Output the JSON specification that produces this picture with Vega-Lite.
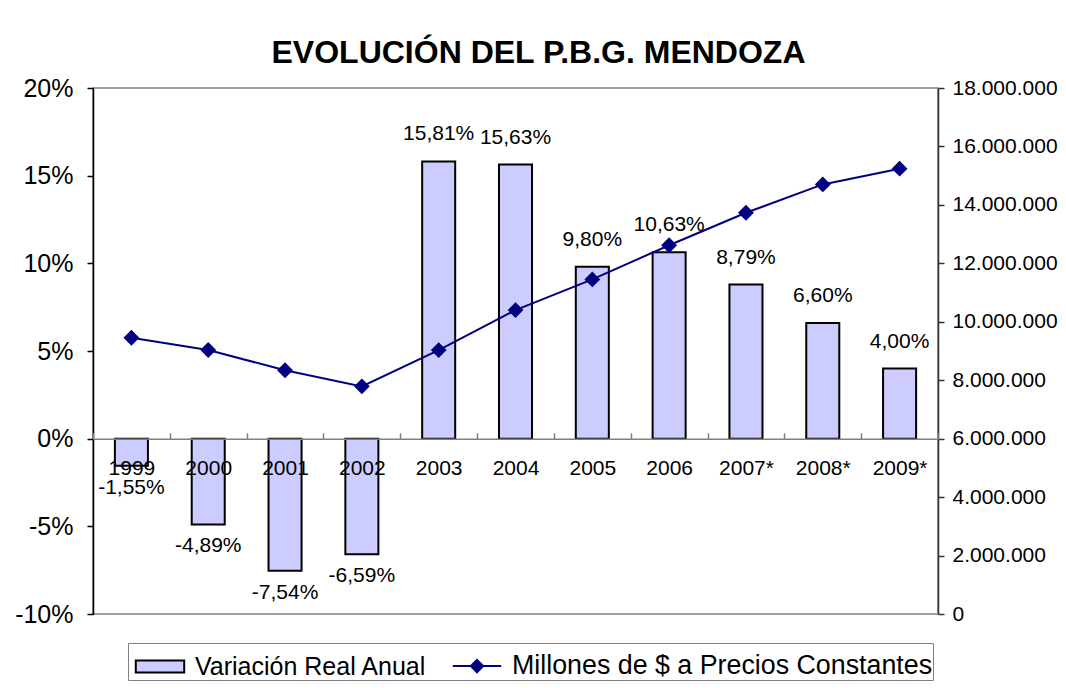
{
  "$schema": "https://vega.github.io/schema/vega-lite/v6.json",
  "width": 845,
  "height": 526,
  "autosize": {"type": "none"},
  "padding": {"left": 93, "top": 88, "right": 128, "bottom": 74},
  "background": "white",
  "config": {
    "locale": {"number": {"decimal": ",", "thousands": ".", "grouping": [3], "currency": ["$", ""], "minus": "-"}},
    "font": "Liberation Sans",
    "view": {"stroke": "#808080", "strokeWidth": 1.5},
    "axis": {"grid": false, "labelColor": "black", "labelFont": "Liberation Sans", "title": null},
    "legend": {
      "orient": "none",
      "legendX": 35,
      "legendY": 555,
      "direction": "horizontal",
      "padding": 0,
      "strokeColor": "#808080",
      "fillColor": "white",
      "labelFont": "Liberation Sans",
      "labelFontSize": {"expr": "datum.value === 'Variación Real Anual' ? 25 : 26.8"},
      "labelColor": "black",
      "labelLimit": 0,
      "symbolSize": 1936,
      "symbolOffset": 9,
      "labelOffset": 12,
      "columnPadding": 18,
      "symbolStrokeWidth": 2,
      "symbolType": {"expr": "datum.value === 'Variación Real Anual' ? 'M-1.1,-0.27H1.1V0.27H-1.1Z' : 'M-1.1,0H1.1M0,-0.28L0.28,0L0,0.28L-0.28,0Z'"},
      "symbolOpacity": 1
    }
  },
  "title": {
    "text": "EVOLUCIÓN DEL P.B.G. MENDOZA",
    "font": "Liberation Sans",
    "fontSize": 32,
    "fontWeight": "bold",
    "color": "black",
    "dx": 23,
    "offset": 6
  },
  "data": {
    "values": [
      {"year": "1999", "var": -0.0155, "pbg": 9455000},
      {"year": "2000", "var": -0.0489, "pbg": 9034000},
      {"year": "2001", "var": -0.0754, "pbg": 8340000},
      {"year": "2002", "var": -0.0659, "pbg": 7790000},
      {"year": "2003", "var": 0.1581, "pbg": 9030000},
      {"year": "2004", "var": 0.1563, "pbg": 10400000},
      {"year": "2005", "var": 0.098, "pbg": 11450000},
      {"year": "2006", "var": 0.1063, "pbg": 12620000},
      {"year": "2007*", "var": 0.0879, "pbg": 13730000},
      {"year": "2008*", "var": 0.066, "pbg": 14700000},
      {"year": "2009*", "var": 0.04, "pbg": 15240000}
    ]
  },
  "encoding": {
    "x": {
      "field": "year",
      "type": "ordinal",
      "sort": null,
      "scale": {"paddingInner": 0, "paddingOuter": 0},
      "axis": {
        "title": null,
        "labelAngle": 0,
        "offset": -175.3,
        "tickBand": "extent",
        "tickSize": -6,
        "tickColor": "#808080",
        "tickWidth": 1.5,
        "domainColor": "#808080",
        "domainWidth": 1.5,
        "labelFontSize": 21,
        "labelPadding": 25,
        "zindex": 1
      }
    }
  },
  "layer": [
    {
      "encoding": {
        "y": {
          "field": "var",
          "type": "quantitative",
          "scale": {"domain": [-0.1, 0.2], "nice": false, "zero": false},
          "axis": {
            "orient": "left",
            "values": [-0.1, -0.05, 0, 0.05, 0.1, 0.15, 0.2],
            "format": ".0%",
            "domainColor": "black",
            "domainWidth": 1.5,
            "tickColor": "black",
            "tickWidth": 1.5,
            "tickSize": 6,
            "labelPadding": 14,
            "labelFontSize": 25
          }
        }
      },
      "layer": [
        {
          "mark": {"type": "bar", "width": {"band": 0.43}, "strokeWidth": 2},
          "encoding": {
            "y2": {"datum": 0},
            "fill": {
              "datum": "Variación Real Anual",
              "type": "nominal",
              "scale": {"domain": ["Variación Real Anual", "Millones de $ a Precios Constantes"], "range": ["#CCCCFF", "#000080"]},
              "legend": {"title": null}
            },
            "stroke": {
              "datum": "Variación Real Anual",
              "type": "nominal",
              "scale": {"domain": ["Variación Real Anual", "Millones de $ a Precios Constantes"], "range": ["black", "#000080"]},
              "legend": {"title": null}
            }
          }
        },
        {
          "transform": [{"filter": "datum.var >= 0"}],
          "mark": {"type": "text", "baseline": "bottom", "dy": -17, "fontSize": 21, "font": "Liberation Sans", "color": "black"},
          "encoding": {"text": {"field": "var", "type": "quantitative", "format": ".2%"}}
        },
        {
          "transform": [{"filter": "datum.var < 0"}],
          "mark": {"type": "text", "baseline": "top", "dy": 11, "fontSize": 21, "font": "Liberation Sans", "color": "black"},
          "encoding": {"text": {"field": "var", "type": "quantitative", "format": ".2%"}}
        }
      ]
    },
    {
      "mark": {"type": "line", "strokeWidth": 2, "point": {"shape": "diamond", "size": 170, "filled": true, "fill": "#000080", "opacity": 1}},
      "encoding": {
        "y": {
          "field": "pbg",
          "type": "quantitative",
          "scale": {"domain": [0, 18000000], "nice": false},
          "axis": {
            "orient": "right",
            "values": [0, 2000000, 4000000, 6000000, 8000000, 10000000, 12000000, 14000000, 16000000, 18000000],
            "format": ",d",
            "domainColor": "#333333",
            "domainWidth": 1.5,
            "tickColor": "#333333",
            "tickWidth": 1.5,
            "tickSize": 6,
            "labelPadding": 8,
            "labelFontSize": 21
          }
        },
        "stroke": {
          "datum": "Millones de $ a Precios Constantes",
          "type": "nominal",
          "legend": {"title": null}
        }
      }
    }
  ],
  "resolve": {"scale": {"y": "independent"}}
}
